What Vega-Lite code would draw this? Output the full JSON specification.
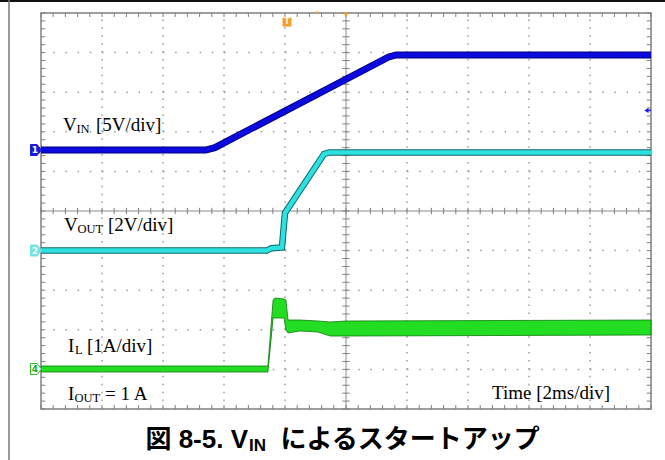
{
  "$schema": "https://vega.github.io/schema/vega-lite/v6.json",
  "width": 610,
  "height": 396,
  "autosize": {"type": "none"},
  "padding": {"left": 41, "top": 13, "right": 14, "bottom": 51},
  "background": "white",
  "config": {
    "view": {"stroke": "#7f7f7f", "strokeWidth": 1.5},
    "axis": {"disable": true},
    "text": {"font": "Liberation Serif", "fontSize": 19, "color": "black", "baseline": "alphabetic", "align": "left"}
  },
  "datasets": {
    "xgrid": [{"t": 2}, {"t": 4}, {"t": 6}, {"t": 8}, {"t": 12}, {"t": 14}, {"t": 16}, {"t": 18}],
    "ygrid": [{"v": -4}, {"v": -3}, {"v": -2}, {"v": -1}, {"v": 1}, {"v": 2}, {"v": 3}, {"v": 4}],
    "xminor": [{"t":0},{"t":0.4},{"t":0.8},{"t":1.2},{"t":1.6},{"t":2},{"t":2.4},{"t":2.8},{"t":3.2},{"t":3.6},{"t":4},{"t":4.4},{"t":4.8},{"t":5.2},{"t":5.6},{"t":6},{"t":6.4},{"t":6.8},{"t":7.2},{"t":7.6},{"t":8},{"t":8.4},{"t":8.8},{"t":9.2},{"t":9.6},{"t":10},{"t":10.4},{"t":10.8},{"t":11.2},{"t":11.6},{"t":12},{"t":12.4},{"t":12.8},{"t":13.2},{"t":13.6},{"t":14},{"t":14.4},{"t":14.8},{"t":15.2},{"t":15.6},{"t":16},{"t":16.4},{"t":16.8},{"t":17.2},{"t":17.6},{"t":18},{"t":18.4},{"t":18.8},{"t":19.2},{"t":19.6},{"t":20}],
    "yminor": [{"v":-5},{"v":-4.8},{"v":-4.6},{"v":-4.4},{"v":-4.2},{"v":-4},{"v":-3.8},{"v":-3.6},{"v":-3.4},{"v":-3.2},{"v":-3},{"v":-2.8},{"v":-2.6},{"v":-2.4},{"v":-2.2},{"v":-2},{"v":-1.8},{"v":-1.6},{"v":-1.4},{"v":-1.2},{"v":-1},{"v":-0.8},{"v":-0.6},{"v":-0.4},{"v":-0.2},{"v":0},{"v":0.2},{"v":0.4},{"v":0.6},{"v":0.8},{"v":1},{"v":1.2},{"v":1.4},{"v":1.6},{"v":1.8},{"v":2},{"v":2.2},{"v":2.4},{"v":2.6},{"v":2.8},{"v":3},{"v":3.2},{"v":3.4},{"v":3.6},{"v":3.8},{"v":4},{"v":4.2},{"v":4.4},{"v":4.6},{"v":4.8},{"v":5}],
    "vin": [{"t": 0, "v": 1.54}, {"t": 5.4, "v": 1.54}, {"t": 5.7, "v": 1.6}, {"t": 11.4, "v": 3.89}, {"t": 11.65, "v": 3.94}, {"t": 20, "v": 3.94}],
    "vout": [{"t": 0, "v": -1.0}, {"t": 7.4, "v": -1.0}, {"t": 7.55, "v": -0.94}, {"t": 7.9, "v": -0.92}, {"t": 8.0, "v": -0.05}, {"t": 9.28, "v": 1.44}, {"t": 9.45, "v": 1.48}, {"t": 20, "v": 1.48}],
    "il": [
      {"t": 0, "hi": -3.914, "lo": -4.066},
      {"t": 7.38, "hi": -3.914, "lo": -4.066},
      {"t": 7.44, "hi": -3.914, "lo": -4.066},
      {"t": 7.61, "hi": -2.247, "lo": -2.702},
      {"t": 7.67, "hi": -2.197, "lo": -2.702},
      {"t": 7.97, "hi": -2.222, "lo": -2.702},
      {"t": 8.03, "hi": -2.247, "lo": -3.005},
      {"t": 8.1, "hi": -2.753, "lo": -3.081},
      {"t": 8.49, "hi": -2.753, "lo": -3.03},
      {"t": 9.08, "hi": -2.778, "lo": -3.056},
      {"t": 9.48, "hi": -2.803, "lo": -3.157},
      {"t": 10, "hi": -2.778, "lo": -3.157},
      {"t": 20, "hi": -2.753, "lo": -3.131}
    ],
    "labels": [
      {"t": 0.72, "v": 2.02, "s": "V", "k": "main"},
      {"t": 1.16, "v": 1.97, "s": "IN", "k": "sub"},
      {"t": 1.8, "v": 2.02, "s": "[5V/div]", "k": "main"},
      {"t": 0.754, "v": -0.505, "s": "V", "k": "main"},
      {"t": 1.197, "v": -0.556, "s": "OUT", "k": "sub"},
      {"t": 2.197, "v": -0.505, "s": "[2V/div]", "k": "main"},
      {"t": 0.885, "v": -3.561, "s": "I", "k": "main"},
      {"t": 1.115, "v": -3.611, "s": "L", "k": "sub"},
      {"t": 1.508, "v": -3.561, "s": "[1A/div]", "k": "main"},
      {"t": 0.885, "v": -4.773, "s": "I", "k": "main"},
      {"t": 1.098, "v": -4.823, "s": "OUT", "k": "sub"},
      {"t": 2.1, "v": -4.773, "s": "= 1 A", "k": "main"},
      {"t": 14.787, "v": -4.747, "s": "Time [2ms/div]", "k": "main"},
      {"t": 6.787, "v": -5.985, "s": "図 8-5. V", "k": "capR"},
      {"t": 6.82, "v": -6.061, "s": "IN", "k": "capsub"},
      {"t": 7.85, "v": -5.985, "s": "によるスタートアップ", "k": "cap"}
    ],
    "flags": [
      {"t": -0.164, "v": 1.54, "n": "1", "c": "ch1"},
      {"t": -0.164, "v": -1.0, "n": "2", "c": "ch2"},
      {"t": -0.164, "v": -3.99, "n": "4", "c": "ch4"}
    ]
  },
  "layer": [
    {
      "data": {"name": "ygrid"},
      "mark": {"type": "rule", "color": "#9a9a9a", "strokeWidth": 1.5, "strokeDash": [1.5, 10.7]},
      "encoding": {
        "y": {"field": "v", "type": "quantitative", "scale": {"domain": [-5, 5], "nice": false, "zero": false}},
        "x": {"datum": 0, "type": "quantitative", "scale": {"domain": [0, 20], "nice": false, "zero": false}},
        "x2": {"datum": 20}
      }
    },
    {
      "data": {"name": "xgrid"},
      "mark": {"type": "rule", "color": "#9a9a9a", "strokeWidth": 1.5, "strokeDash": [1.5, 6.42]},
      "encoding": {
        "x": {"field": "t", "type": "quantitative"},
        "y": {"datum": -5, "type": "quantitative"},
        "y2": {"datum": 5}
      }
    },
    {
      "data": {"values": [{}]},
      "mark": {"type": "rule", "color": "#8a8a8a", "strokeWidth": 1},
      "encoding": {"y": {"datum": 0, "type": "quantitative"}, "x": {"datum": 0, "type": "quantitative"}, "x2": {"datum": 20}}
    },
    {
      "data": {"values": [{}]},
      "mark": {"type": "rule", "color": "#8a8a8a", "strokeWidth": 1},
      "encoding": {"x": {"datum": 10, "type": "quantitative"}, "y": {"datum": -5, "type": "quantitative"}, "y2": {"datum": 5}}
    },
    {
      "data": {"name": "xminor"},
      "mark": {"type": "rule", "color": "#7f7f7f", "strokeWidth": 1},
      "encoding": {"x": {"field": "t", "type": "quantitative"}, "y": {"datum": 5, "type": "quantitative"}, "y2": {"datum": 4.9}}
    },
    {
      "data": {"name": "xminor"},
      "mark": {"type": "rule", "color": "#7f7f7f", "strokeWidth": 1},
      "encoding": {"x": {"field": "t", "type": "quantitative"}, "y": {"datum": -5, "type": "quantitative"}, "y2": {"datum": -4.9}}
    },
    {
      "data": {"name": "xminor"},
      "mark": {"type": "rule", "color": "#7f7f7f", "strokeWidth": 1},
      "encoding": {"x": {"field": "t", "type": "quantitative"}, "y": {"datum": -0.08, "type": "quantitative"}, "y2": {"datum": 0.08}}
    },
    {
      "data": {"name": "yminor"},
      "mark": {"type": "rule", "color": "#7f7f7f", "strokeWidth": 1},
      "encoding": {"y": {"field": "v", "type": "quantitative"}, "x": {"datum": 0, "type": "quantitative"}, "x2": {"datum": 0.14}}
    },
    {
      "data": {"name": "yminor"},
      "mark": {"type": "rule", "color": "#7f7f7f", "strokeWidth": 1},
      "encoding": {"y": {"field": "v", "type": "quantitative"}, "x": {"datum": 20, "type": "quantitative"}, "x2": {"datum": 19.86}}
    },
    {
      "data": {"name": "yminor"},
      "mark": {"type": "rule", "color": "#7f7f7f", "strokeWidth": 1},
      "encoding": {"y": {"field": "v", "type": "quantitative"}, "x": {"datum": 9.88, "type": "quantitative"}, "x2": {"datum": 10.12}}
    },
    {
      "data": {"name": "il"},
      "mark": {"type": "area", "color": "#22dd22", "stroke": "#0c7a0c", "strokeWidth": 0.8, "opacity": 1},
      "encoding": {
        "x": {"field": "t", "type": "quantitative"},
        "y": {"field": "hi", "type": "quantitative"},
        "y2": {"field": "lo"}
      }
    },
    {
      "data": {"name": "vout"},
      "mark": {"type": "line", "color": "#0a6a6a", "strokeWidth": 6.5},
      "encoding": {"x": {"field": "t", "type": "quantitative"}, "y": {"field": "v", "type": "quantitative"}}
    },
    {
      "data": {"name": "vout"},
      "mark": {"type": "line", "color": "#2ee0e0", "strokeWidth": 4.5},
      "encoding": {"x": {"field": "t", "type": "quantitative"}, "y": {"field": "v", "type": "quantitative"}}
    },
    {
      "data": {"name": "vin"},
      "mark": {"type": "line", "color": "#00007a", "strokeWidth": 7},
      "encoding": {"x": {"field": "t", "type": "quantitative"}, "y": {"field": "v", "type": "quantitative"}}
    },
    {
      "data": {"name": "vin"},
      "mark": {"type": "line", "color": "#0a0ae0", "strokeWidth": 5},
      "encoding": {"x": {"field": "t", "type": "quantitative"}, "y": {"field": "v", "type": "quantitative"}}
    },
    {
      "data": {"name": "labels"},
      "transform": [{"filter": "datum.k === 'main'"}],
      "mark": {"type": "text", "font": "Liberation Serif", "fontSize": 19},
      "encoding": {"x": {"field": "t", "type": "quantitative"}, "y": {"field": "v", "type": "quantitative"}, "text": {"field": "s"}}
    },
    {
      "data": {"name": "labels"},
      "transform": [{"filter": "datum.k === 'sub'"}],
      "mark": {"type": "text", "font": "Liberation Serif", "fontSize": 12.5},
      "encoding": {"x": {"field": "t", "type": "quantitative"}, "y": {"field": "v", "type": "quantitative"}, "text": {"field": "s"}}
    },
    {
      "data": {"name": "labels"},
      "transform": [{"filter": "datum.k === 'cap'"}],
      "mark": {"type": "text", "font": "Liberation Sans, Noto Sans CJK JP", "fontSize": 26, "fontWeight": "bold"},
      "encoding": {"x": {"field": "t", "type": "quantitative"}, "y": {"field": "v", "type": "quantitative"}, "text": {"field": "s"}}
    },
    {
      "data": {"name": "labels"},
      "transform": [{"filter": "datum.k === 'capR'"}],
      "mark": {"type": "text", "font": "Liberation Sans, Noto Sans CJK JP", "fontSize": 26, "fontWeight": "bold", "align": "right"},
      "encoding": {"x": {"field": "t", "type": "quantitative"}, "y": {"field": "v", "type": "quantitative"}, "text": {"field": "s"}}
    },
    {
      "data": {"name": "labels"},
      "transform": [{"filter": "datum.k === 'capsub'"}],
      "mark": {"type": "text", "font": "Liberation Sans", "fontSize": 17, "fontWeight": "bold"},
      "encoding": {"x": {"field": "t", "type": "quantitative"}, "y": {"field": "v", "type": "quantitative"}, "text": {"field": "s"}}
    },
    {
      "data": {"name": "flags"},
      "mark": {"type": "point", "shape": "M-1,-1L0.2,-1L1,0L0.2,1L-1,1Z", "size": 120, "filled": true, "strokeWidth": 1, "opacity": 1},
      "encoding": {
        "x": {"field": "t", "type": "quantitative"},
        "y": {"field": "v", "type": "quantitative"},
        "fill": {"field": "c", "type": "nominal", "scale": {"domain": ["ch1", "ch2", "ch4"], "range": ["#1a1ad8", "#6fe4e4", "#ffffff"]}, "legend": null},
        "stroke": {"field": "c", "type": "nominal", "scale": {"domain": ["ch1", "ch2", "ch4"], "range": ["#1a1ad8", "#6fe4e4", "#22bb22"]}, "legend": null}
      }
    },
    {
      "data": {"name": "flags"},
      "mark": {"type": "text", "font": "DejaVu Sans", "fontSize": 9, "fontWeight": "bold", "align": "center", "baseline": "middle", "dx": -1},
      "encoding": {
        "x": {"field": "t", "type": "quantitative"},
        "y": {"field": "v", "type": "quantitative"},
        "text": {"field": "n"},
        "color": {"field": "c", "type": "nominal", "scale": {"domain": ["ch1", "ch2", "ch4"], "range": ["#ffffff", "#ffffff", "#22aa22"]}, "legend": null}
      }
    },
    {
      "data": {"values": [{}]},
      "mark": {"type": "point", "shape": "square", "size": 80, "filled": true, "color": "#f0a030", "opacity": 1},
      "encoding": {"x": {"datum": 8.066, "type": "quantitative"}, "y": {"datum": 4.77, "type": "quantitative"}}
    },
    {
      "data": {"values": [{}]},
      "mark": {"type": "text", "text": "T", "font": "DejaVu Sans", "fontSize": 8, "fontWeight": "bold", "color": "#fff4d0", "align": "center", "baseline": "middle"},
      "encoding": {"x": {"datum": 8.066, "type": "quantitative"}, "y": {"datum": 4.77, "type": "quantitative"}}
    },
    {
      "data": {"values": [{}]},
      "mark": {"type": "point", "shape": "triangle-down", "size": 30, "filled": true, "color": "#f0a030", "opacity": 1},
      "encoding": {"x": {"datum": 10, "type": "quantitative"}, "y": {"datum": 4.95, "type": "quantitative"}}
    },
    {
      "data": {"values": [{}]},
      "mark": {"type": "point", "shape": "triangle-down", "size": 12, "filled": true, "color": "#f0a030", "opacity": 1},
      "encoding": {"x": {"datum": 9.05, "type": "quantitative"}, "y": {"datum": 5.0, "type": "quantitative"}}
    },
    {
      "data": {"values": [{}]},
      "mark": {"type": "point", "shape": "triangle-left", "size": 25, "filled": true, "color": "#1a1ad8", "opacity": 1},
      "encoding": {"x": {"datum": 19.85, "type": "quantitative"}, "y": {"datum": 2.54, "type": "quantitative"}}
    },
    {
      "data": {"values": [{}]},
      "mark": {"type": "rule", "color": "#1a1ad8", "strokeWidth": 1.5},
      "encoding": {"x": {"datum": 19.85, "type": "quantitative"}, "x2": {"datum": 20}, "y": {"datum": 2.54, "type": "quantitative"}}
    },
    {
      "data": {"values": [{}]},
      "mark": {"type": "rule", "color": "#111111", "strokeWidth": 2},
      "encoding": {"x": {"datum": -1.4, "type": "quantitative"}, "x2": {"datum": 20.5}, "y": {"datum": 5.303, "type": "quantitative"}}
    },
    {
      "data": {"values": [{}]},
      "mark": {"type": "rule", "color": "#777777", "strokeWidth": 1.5},
      "encoding": {"x": {"datum": -1.049, "type": "quantitative"}, "y": {"datum": 5.33, "type": "quantitative"}, "y2": {"datum": -6.3}}
    }
  ]
}
